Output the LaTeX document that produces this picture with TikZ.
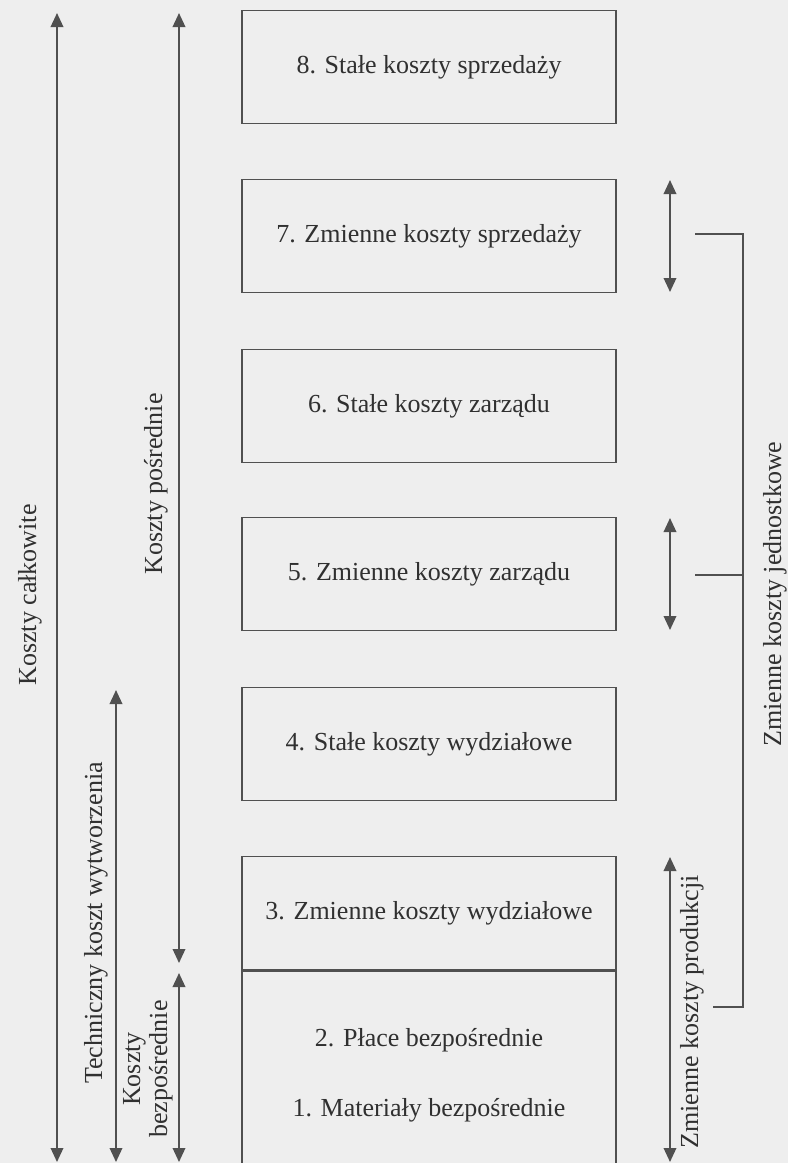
\documentclass[tikz,border=0pt]{standalone}
\usepackage{fontspec}
\setmainfont{Liberation Serif}
\usetikzlibrary{arrows.meta}
\definecolor{bg}{RGB}{238,238,238}
\definecolor{ink}{RGB}{80,80,80}
\definecolor{txt}{RGB}{48,48,48}
\begin{document}
\begin{tikzpicture}[x=1pt,y=-1pt,
  tfont/.style={font=\fontsize{26}{27}\selectfont},
  box/.style={draw=ink, line width=1.9pt, minimum width=374pt, minimum height=113pt, inner sep=0pt, text=txt, tfont},
  intext/.style={text=txt, tfont, inner sep=0pt},
  lbl/.style={rotate=90, text=txt, tfont, inner sep=0pt},
  arr/.style={draw=ink, line width=1.9pt, {Triangle[length=14pt,width=12.5pt]}-{Triangle[length=14pt,width=12.5pt]}},
  brk/.style={draw=ink, line width=1.1pt}]
\clip (0,0) rectangle (788,1163);
\fill[bg] (0,0) rectangle (788,1163);
% boxes
\node[box] (b8) at (429,67) {8. Stałe koszty sprzedaży};
\node[box] (b7) at (429,236) {7. Zmienne koszty sprzedaży};
\node[box] (b6) at (429,406) {6. Stałe koszty zarządu};
\node[box] (b5) at (429,574) {5. Zmienne koszty zarządu};
\node[box] (b4) at (429,744) {4. Stałe koszty wydziałowe};
\node[box] (b3) at (429,913) {3. Zmienne koszty wydziałowe};
\node[box, minimum height=240pt, anchor=north] (b21) at (429,970) {};
\node[intext] (t2) at (429,1040) {2. Płace bezpośrednie};
\node[intext] (t1) at (429,1110) {1. Materiały bezpośrednie};
% left arrows
\coordinate (kc1) at (57,13);  \coordinate (kc2) at (57,1162);
\coordinate (tk1) at (116,690); \coordinate (tk2) at (116,1162);
\coordinate (kp1) at (179,13); \coordinate (kp2) at (179,963);
\coordinate (kb1) at (179,973); \coordinate (kb2) at (179,1162);
\draw[arr] (kc1) -- (kc2);
\draw[arr] (tk1) -- (tk2);
\draw[arr] (kp1) -- (kp2);
\draw[arr] (kb1) -- (kb2);
% right arrows
\coordinate (zs1) at (670,180); \coordinate (zs2) at (670,292);
\coordinate (zz1) at (670,518); \coordinate (zz2) at (670,630);
\coordinate (zp1) at (670,857); \coordinate (zp2) at (670,1162);
\draw[arr] (zs1) -- (zs2);
\draw[arr] (zz1) -- (zz2);
\draw[arr] (zp1) -- (zp2);
% bracket
\coordinate (br1) at (695,234); \coordinate (br2) at (743,234);
\coordinate (br3) at (743,1007); \coordinate (br4) at (713,1007);
\coordinate (bm1) at (695,575); \coordinate (bm2) at (743,575);
\draw[brk] (br1) -- (br2) -- (br3) -- (br4);
\draw[brk] (bm1) -- (bm2);
% labels
\node[lbl] (lkc) at (30,595) {Koszty całkowite};
\node[lbl] (lkp) at (156,484) {Koszty pośrednie};
\node[lbl] (ltk) at (96,923) {Techniczny koszt wytworzenia};
\node[lbl, align=center] (lkb) at (148,1069) {Koszty\\bezpośrednie};
\node[lbl] (lzj) at (775,594) {Zmienne koszty jednostkowe};
\node[lbl] (lzp) at (692,1012) {Zmienne koszty produkcji};
\end{tikzpicture}
\end{document}
